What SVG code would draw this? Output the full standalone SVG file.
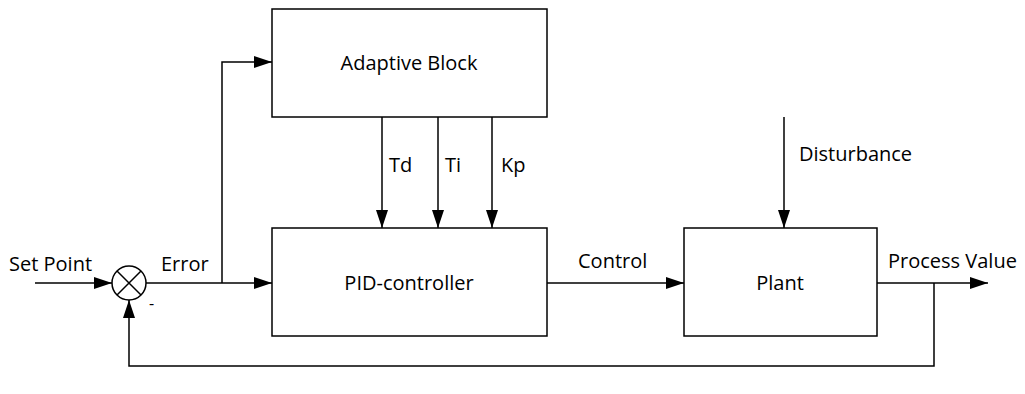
<svg xmlns="http://www.w3.org/2000/svg" width="1025" height="394" viewBox="0 0 1025 394">
<defs>
<marker id="ah" markerUnits="userSpaceOnUse" markerWidth="20" markerHeight="14" refX="18" refY="6" orient="auto">
<path d="M0,0 L18,6 L0,12 Z" fill="#000"/>
</marker>
<style>
.box{fill:#fff;stroke:#000;stroke-width:1.5}
.ln{fill:none;stroke:#000;stroke-width:1.5}
.ar{fill:none;stroke:#000;stroke-width:1.5;marker-end:url(#ah)}
text{font-family:"Open Sans","Liberation Sans",Arial,sans-serif;font-size:20px;fill:#000}
.c{text-anchor:middle}
</style>
</defs>
<rect width="1025" height="394" fill="#fff"/>
<g id="connectors">
<path class="ar" d="M35,283 L112,283"/>
<path class="ar" d="M146,283 L272,283"/>
<path class="ar" d="M222,283 L222,62 L272,62"/>
<path class="ar" d="M382,117 L382,228"/>
<path class="ar" d="M438,117 L438,228"/>
<path class="ar" d="M492,117 L492,228"/>
<path class="ar" d="M547,283 L684,283"/>
<path class="ar" d="M784,117 L784,228"/>
<path class="ar" d="M877,283 L988,283"/>
<path class="ar" d="M934,283 L934,366 L129,366 L129,300"/>
</g>
<g id="sum">
<circle class="box" cx="129" cy="283" r="17"/>
<path class="ln" d="M117,271 L141,295 M141,271 L117,295"/>
<text x="149" y="309" style="font-size:16px">-</text>
</g>
<g id="adaptive"><rect class="box" x="272" y="9" width="275" height="108"/><text class="c" x="409" y="70">Adaptive Block</text></g>
<g id="pid"><rect class="box" x="272" y="228" width="275" height="108"/><text class="c" x="409" y="290">PID-controller</text></g>
<g id="plant"><rect class="box" x="684" y="228" width="193" height="108"/><text class="c" x="780" y="290">Plant</text></g>
<g id="labels">
<text x="9" y="271">Set Point</text>
<text x="161" y="271">Error</text>
<text x="389" y="172">Td</text>
<text x="445" y="172">Ti</text>
<text x="501" y="172">Kp</text>
<text x="578" y="268">Control</text>
<text x="888" y="268">Process Value</text>
<text x="799" y="161">Disturbance</text>
</g>
</svg>
